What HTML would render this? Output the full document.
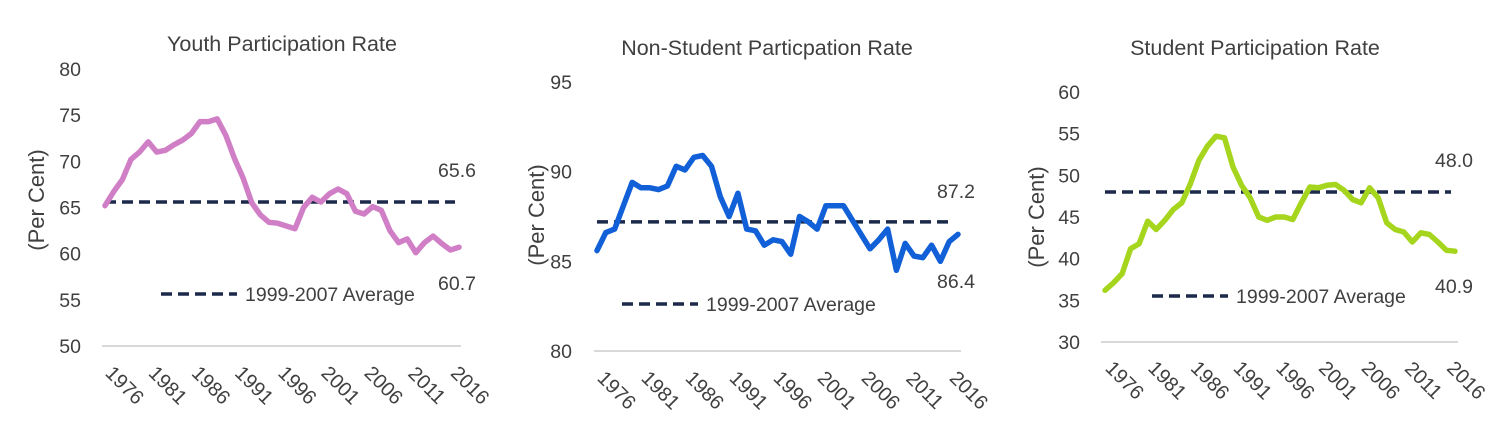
<!DOCTYPE html>
<html><head><meta charset="utf-8"><style>
body{margin:0;background:#fff;}
svg text{font-family:"Liberation Sans",sans-serif;fill:#404040;}
</style></head><body>
<svg id="s" width="1500" height="434" xmlns="http://www.w3.org/2000/svg"></svg>
<script>
const S=document.getElementById('s');
let h='';
function chart(c){
  h+=`<line x1="${c.bx1}" x2="${c.bx2}" y1="${c.y0}" y2="${c.y0}" stroke="#d9d9d9" stroke-width="2"/>`;
  const py=v=>c.yTop+(c.vTop-v)*(c.y0-c.yTop)/(c.vTop-c.vBot);
  for(let v=c.vBot;v<=c.vTop;v+=c.step){
    h+=`<text x="${c.tx}" y="${py(v)+7}" font-size="19.5" text-anchor="end">${v}</text>`;
  }
  h+=`<text x="${c.title[0]}" y="${c.title[1]}" font-size="21.5" text-anchor="middle">${c.title[2]}</text>`;
  h+=`<text transform="translate(${c.ylab[0]},${c.ylab[1]}) rotate(-90)" font-size="22" text-anchor="middle">(Per Cent)</text>`;
  const n=c.d.length;
  const pts=c.d.map((v,i)=>(c.x1+(c.x2-c.x1)*i/(n-1)).toFixed(1)+','+py(v).toFixed(1)).join(' ');
  const ay=py(c.avg);
  h+=`<line x1="${c.x1}" x2="${c.x2-4}" y1="${ay}" y2="${ay}" stroke="#1b2a4a" stroke-width="3.5" stroke-dasharray="11,6"/>`;
  h+=`<polyline points="${pts}" fill="none" stroke="${c.col}" stroke-width="5.5" stroke-linejoin="round" stroke-linecap="round"/>`;
  const yrs=[1976,1981,1986,1991,1996,2001,2006,2011,2016];
  yrs.forEach((y,i)=>{
    const x=c.lx+i*(c.x2-c.x1)*5/41;
    h+=`<text transform="translate(${x},${c.ly}) rotate(45)" font-size="20" text-anchor="middle">${y}</text>`;
  });
  h+=`<line x1="${c.leg[0]}" x2="${c.leg[0]+76}" y1="${c.leg[1]}" y2="${c.leg[1]}" stroke="#1b2a4a" stroke-width="3.5" stroke-dasharray="11,6"/>`;
  h+=`<text x="${c.leg[0]+84}" y="${c.leg[1]+7}" font-size="19.5">1999-2007 Average</text>`;
  h+=`<text x="${c.vl[0]}" y="${c.vl[1]}" font-size="19.5">${c.vl[2]}</text>`;
  h+=`<text x="${c.vl[0]}" y="${c.vl[3]}" font-size="19.5">${c.vl[4]}</text>`;
}
chart({bx1:102,bx2:461,y0:346,yTop:69,vTop:80,vBot:50,step:5,tx:81,x1:105,x2:459,
 title:[282,51,'Youth Participation Rate'],ylab:[44,200],col:'#d07fc6',avg:65.6,
 lx:120,ly:390,leg:[161,294],vl:[438,177,'65.6',290,'60.7'],
 d:[65.2,66.7,68,70.2,71,72.1,71,71.2,71.8,72.3,73,74.3,74.3,74.6,72.8,70.3,68.2,65.5,64.2,63.4,63.3,63,62.7,65,66.1,65.6,66.5,67,66.5,64.6,64.3,65.1,64.7,62.5,61.2,61.6,60.1,61.2,61.9,61.1,60.4,60.7]});
chart({bx1:594,bx2:961,y0:351,yTop:82,vTop:95,vBot:80,step:5,tx:572,x1:597,x2:958,
 title:[767,55,'Non-Student Particpation Rate'],ylab:[544,215],col:'#1160d8',avg:87.2,
 lx:612,ly:395,leg:[622,304],vl:[937,198,'87.2',288,'86.4'],
 d:[85.6,86.6,86.8,88.1,89.4,89.1,89.1,89,89.2,90.3,90.1,90.8,90.9,90.3,88.6,87.5,88.8,86.8,86.7,85.9,86.2,86.1,85.4,87.5,87.2,86.8,88.1,88.1,88.1,87.3,86.5,85.7,86.2,86.8,84.5,86,85.3,85.2,85.9,85,86.1,86.5]});
chart({bx1:1101,bx2:1458,y0:342,yTop:92,vTop:60,vBot:30,step:5,tx:1080,x1:1105,x2:1455,
 title:[1255,55,'Student Participation Rate'],ylab:[1044,217],col:'#a6d51e',avg:48,
 lx:1120,ly:385,leg:[1152,296],vl:[1435,167,'48.0',293,'40.9'],
 d:[36.2,37.1,38.2,41.2,41.8,44.5,43.5,44.6,45.9,46.7,49,51.8,53.5,54.7,54.5,51,48.8,47.3,45,44.6,45,45,44.7,46.7,48.6,48.5,48.8,48.9,48.2,47.1,46.7,48.5,47.3,44.3,43.5,43.2,42,43.1,42.9,42,41,40.9]});
S.innerHTML=h;
</script>
</body></html>
